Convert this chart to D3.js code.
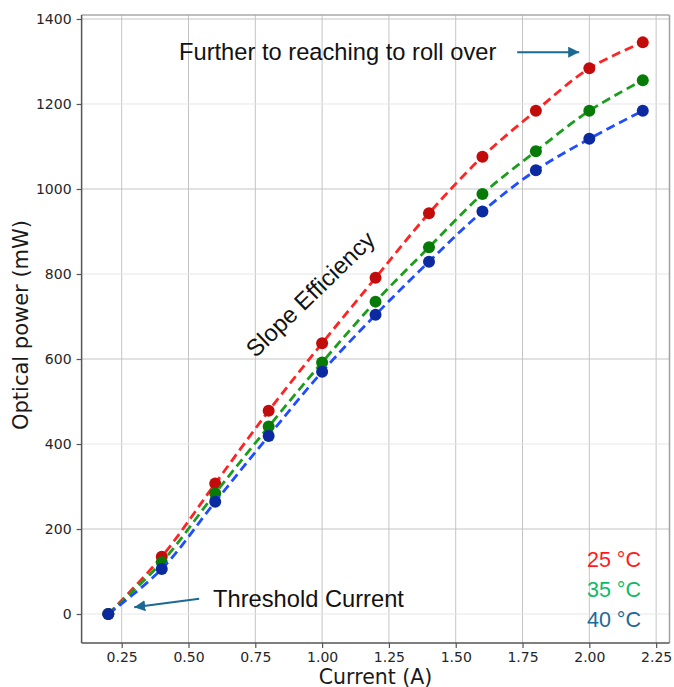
<!DOCTYPE html>
<html>
<head>
<meta charset="utf-8">
<script src="https://cdn.jsdelivr.net/npm/d3@7"></script>
<style>
  html, body { margin: 0; padding: 0; background: #fff; }
  svg { display: block; }
</style>
</head>
<body>
<svg id="chart" width="674" height="687"></svg>
<script>
// Drive current (A)
const current = [0.2, 0.4, 0.6, 0.8, 1.0, 1.2, 1.4, 1.6, 1.8, 2.0, 2.2];
// Optical power (mW) at each temperature
const power25 = [0, 135, 307, 478, 637, 791, 943, 1076, 1184, 1284, 1345];
const power35 = [0, 122, 284, 441, 592, 735, 863, 988, 1089, 1184, 1256];
const power40 = [0, 106, 264, 419, 570, 704, 829, 947, 1044, 1118, 1184];
const seriesLabels = ["25 °C", "35 °C", "40 °C"];
const xTicks = [0.25, 0.5, 0.75, 1.0, 1.25, 1.5, 1.75, 2.0, 2.25];
const yTicks = [0, 200, 400, 600, 800, 1000, 1200, 1400];

const svg = d3.select("#chart");
const plot = { left: 81.6, right: 669.5, top: 15, bottom: 643 };

const x = d3.scaleLinear().domain([0.1, 2.3]).range([plot.left, plot.right]);
const y = d3.scaleLinear().domain([-68.2, 1409.4]).range([plot.bottom, plot.top]);

const series = [
  { values: power25, line: "#ff2424", dot: "#c20c0c", legend: "#ff1a1a" },
  { values: power35, line: "#1c9c1c", dot: "#087a08", legend: "#0cba68" },
  { values: power40, line: "#1f4dff", dot: "#0c2aa0", legend: "#1b6a98" }
];

// Grid
const grid = svg.append("g");
grid.selectAll("line.vx").data(xTicks).join("line")
  .attr("x1", d => x(d)).attr("x2", d => x(d))
  .attr("y1", plot.top).attr("y2", plot.bottom)
  .attr("stroke", "#c4c4c4").attr("stroke-width", 1);
grid.selectAll("line.hy").data(yTicks).join("line")
  .attr("x1", plot.left).attr("x2", plot.right)
  .attr("y1", d => y(d)).attr("y2", d => y(d))
  .attr("stroke", d => (d / 200) % 2 === 1 ? "#c4c4c4" : "#e6e6e6")
  .attr("stroke-width", 1);

// Frame: top/right lighter than left/bottom
svg.append("line").attr("x1", plot.left).attr("x2", plot.right).attr("y1", plot.top).attr("y2", plot.top)
  .attr("stroke", "#a8a8a8").attr("stroke-width", 1.5);
svg.append("line").attr("x1", plot.right).attr("x2", plot.right).attr("y1", plot.top).attr("y2", plot.bottom)
  .attr("stroke", "#a0a0a0").attr("stroke-width", 1.5);

// Axes
const xAxis = svg.append("g").attr("transform", `translate(0,${plot.bottom})`)
  .call(d3.axisBottom(x).tickValues(xTicks).tickFormat(d3.format(".2f")).tickSize(5).tickPadding(4));
const yAxis = svg.append("g").attr("transform", `translate(${plot.left},0)`)
  .call(d3.axisLeft(y).tickValues(yTicks).tickFormat(d3.format("d")).tickSize(5).tickPadding(5));
[xAxis, yAxis].forEach(a => {
  a.select(".domain").attr("stroke", "#555").attr("stroke-width", 1.5);
  a.selectAll(".tick line").attr("stroke", "#555").attr("stroke-width", 1.2);
  a.selectAll(".tick text").attr("fill", "#262626")
    .style("font-family", "DejaVu Sans").style("font-size", "14px");
});
yAxis.select(".domain").attr("d", `M0,${plot.top}V${plot.bottom}`);
xAxis.select(".domain").attr("d", `M${plot.left},0H${plot.right}`);

// Axis titles
svg.append("text").attr("x", (plot.left + plot.right) / 2).attr("y", 683.5)
  .attr("text-anchor", "middle").attr("fill", "#1a1a1a")
  .style("font-family", "DejaVu Sans").style("font-size", "20.5px")
  .text("Current (A)");
svg.append("text").attr("transform", `translate(28,${(plot.top + plot.bottom) / 2 - 4}) rotate(-90)`)
  .attr("text-anchor", "middle").attr("fill", "#1a1a1a")
  .style("font-family", "DejaVu Sans").style("font-size", "21px")
  .text("Optical power (mW)");

// Curves and markers
const lineGen = d3.line()
  .x((d, i) => x(current[i]))
  .y(d => y(d))
  .curve(d3.curveCatmullRom.alpha(0.5));

const marks = svg.append("g");
series.forEach(s => {
  marks.append("path").datum(s.values)
    .attr("d", lineGen)
    .attr("fill", "none")
    .attr("stroke", s.line)
    .attr("stroke-width", 2.8)
    .attr("stroke-dasharray", "9,5");
  marks.append("g").selectAll("circle").data(s.values).join("circle")
    .attr("cx", (d, i) => x(current[i]))
    .attr("cy", d => y(d))
    .attr("r", 6)
    .attr("fill", s.dot);
});

// Legend
const legend = svg.append("g");
seriesLabels.forEach((label, i) => {
  legend.append("text")
    .attr("x", 641).attr("y", 567 + i * 30)
    .attr("text-anchor", "end")
    .attr("fill", series[i].legend)
    .style("font-family", "Liberation Sans").style("font-size", "21.5px")
    .text(label);
});

// Annotations
const arrowColor = "#1b6a94";
svg.append("defs").append("marker")
  .attr("id", "head").attr("viewBox", "0 0 10 10")
  .attr("refX", 10).attr("refY", 5)
  .attr("markerWidth", 11).attr("markerHeight", 11)
  .attr("markerUnits", "userSpaceOnUse")
  .attr("orient", "auto")
  .append("path").attr("d", "M0,0L10,5L0,10Z").attr("fill", arrowColor);

const note = (tx, ty, text) => svg.append("text")
  .attr("x", tx).attr("y", ty).attr("fill", "#121212")
  .style("font-family", "Liberation Sans").style("font-size", "23.7px")
  .text(text);

note(179, 60, "Further to reaching to roll over");
svg.append("line")
  .attr("x1", x(1.73)).attr("y1", y(1322)).attr("x2", x(1.962)).attr("y2", y(1322))
  .attr("stroke", arrowColor).attr("stroke-width", 2).attr("marker-end", "url(#head)");

note(213, 607, "Threshold Current");
svg.append("line")
  .attr("x1", x(0.54)).attr("y1", y(36)).attr("x2", x(0.297)).attr("y2", y(16))
  .attr("stroke", arrowColor).attr("stroke-width", 2).attr("marker-end", "url(#head)");

svg.append("text")
  .attr("transform", "translate(316,300) rotate(-44)")
  .attr("text-anchor", "middle").attr("fill", "#121212")
  .style("font-family", "Liberation Sans").style("font-size", "23.7px")
  .text("Slope Efficiency");
</script>
</body>
</html>
